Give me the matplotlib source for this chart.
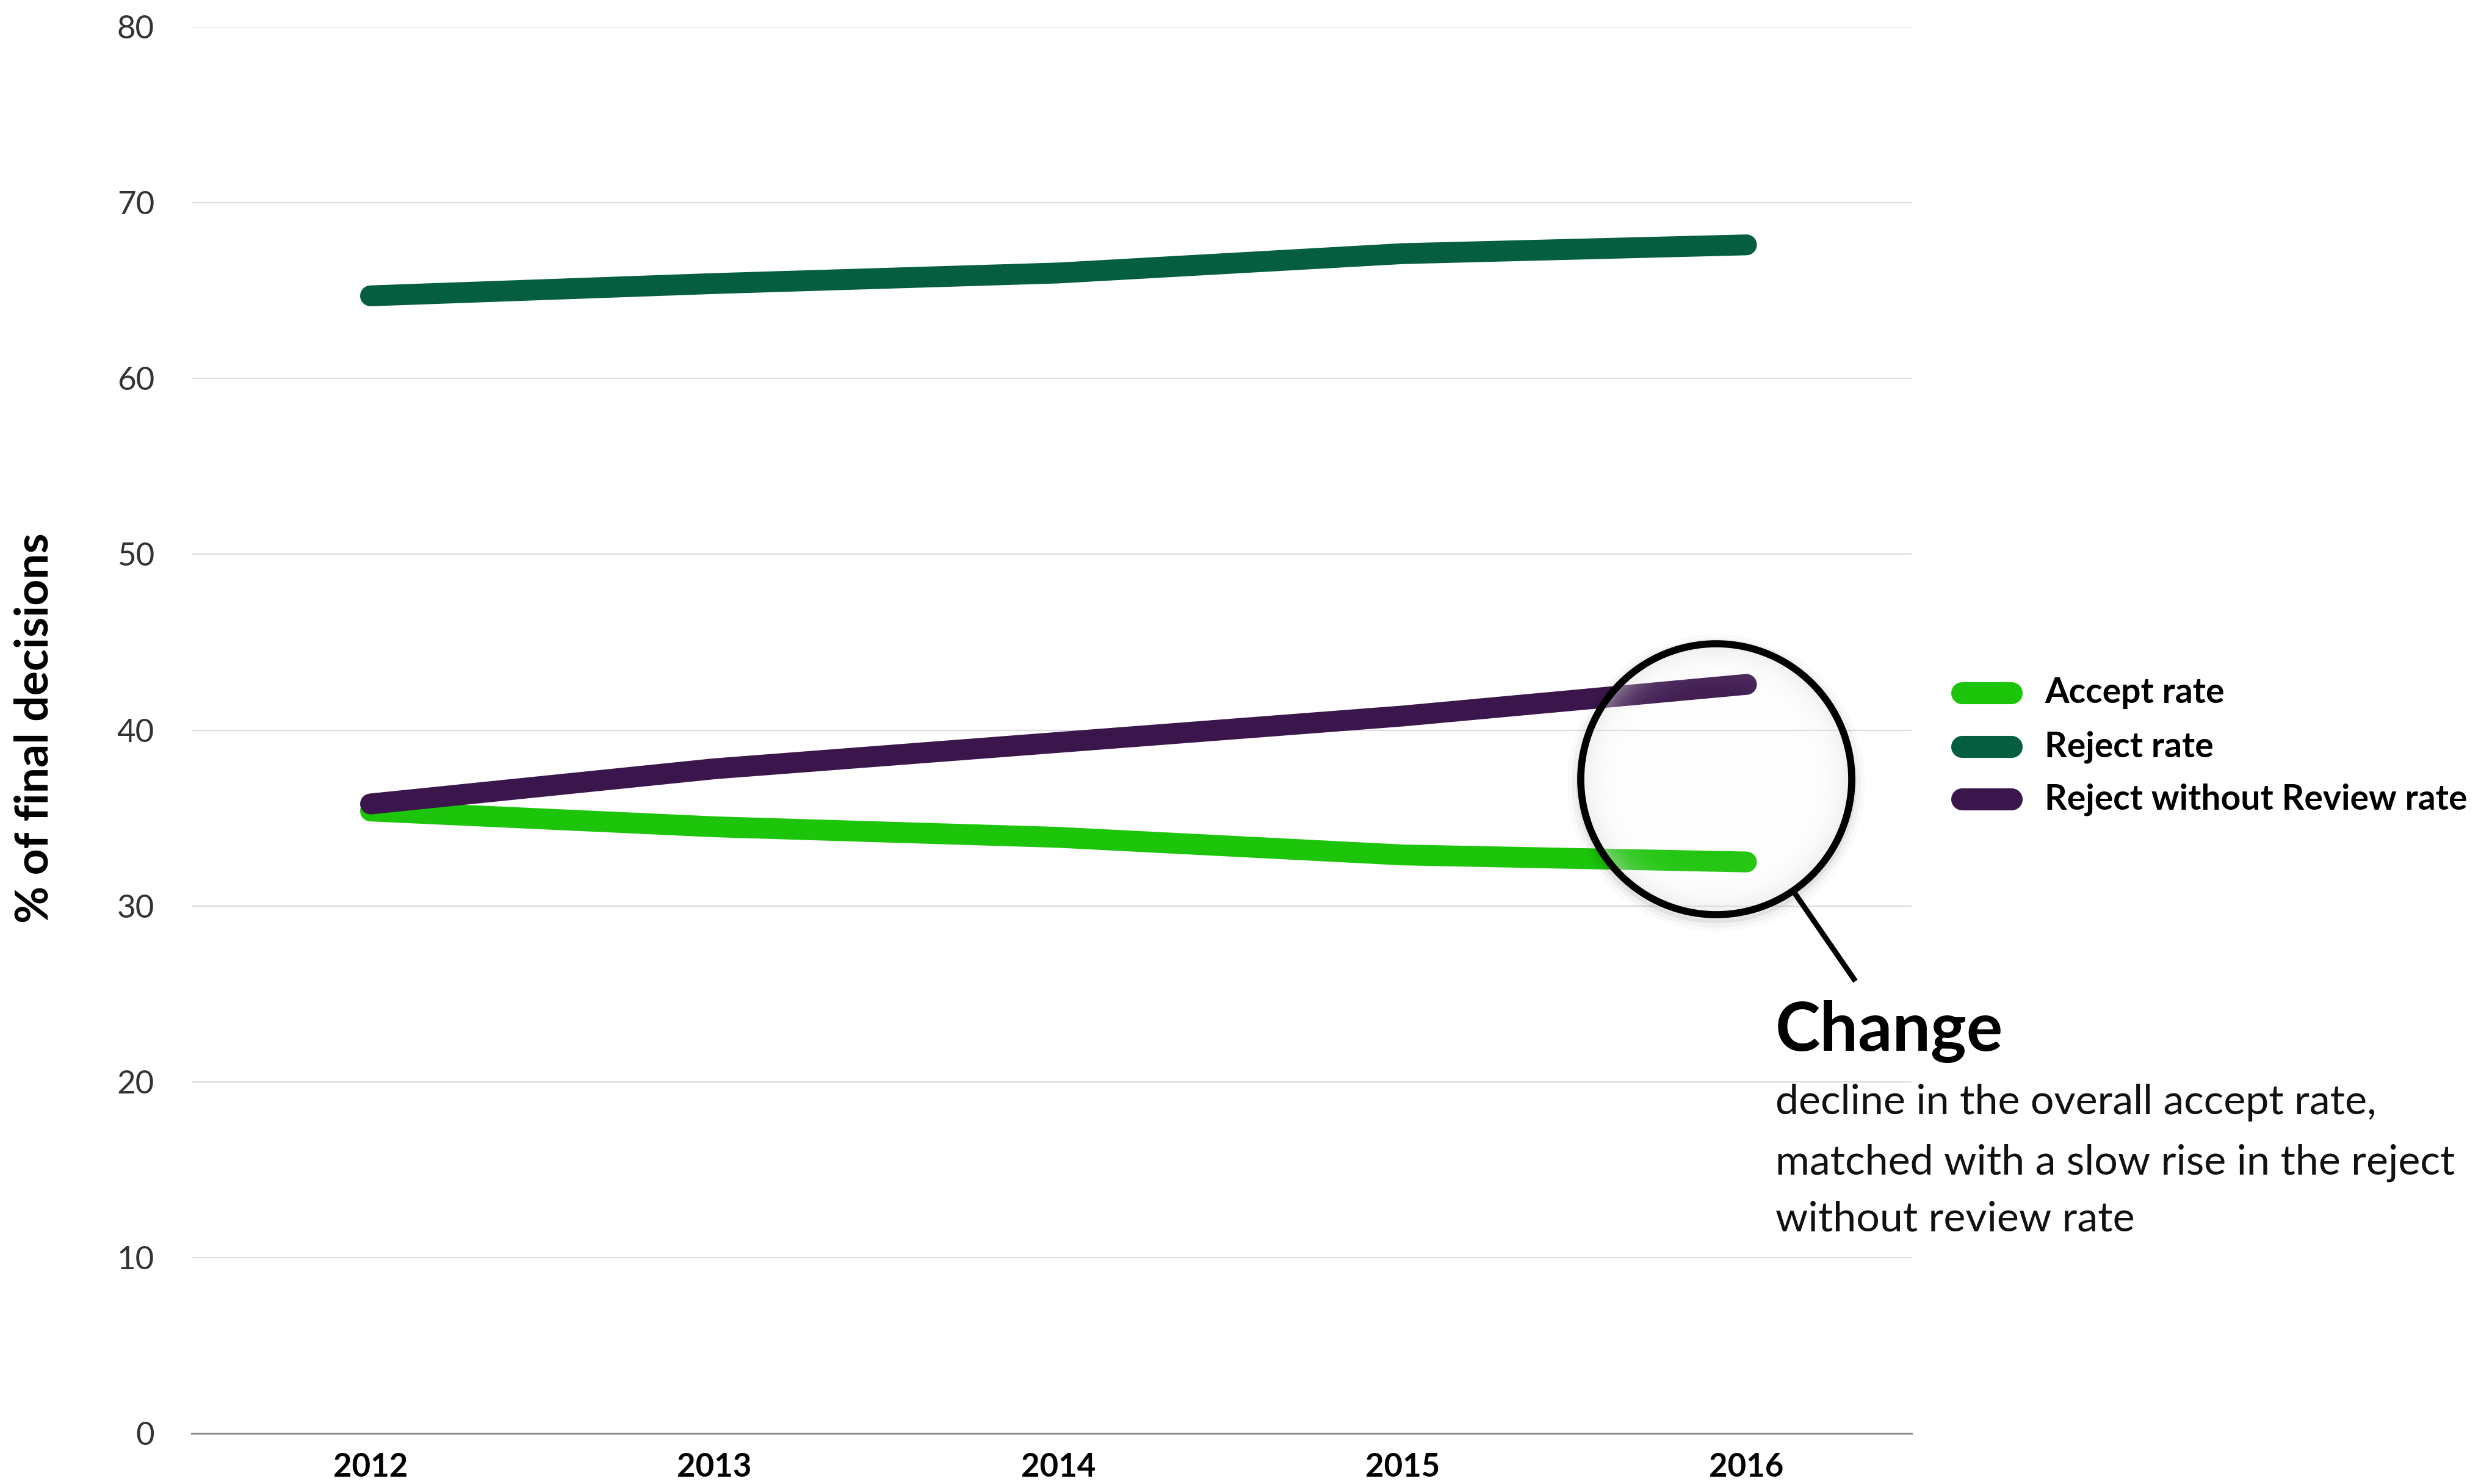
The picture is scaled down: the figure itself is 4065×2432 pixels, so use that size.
import numpy as np
import matplotlib
matplotlib.use("Agg")
import matplotlib.pyplot as plt
from matplotlib.patches import Circle

plt.rcParams['font.family'] = ['Lato', 'DejaVu Sans']

years = [2012, 2013, 2014, 2015, 2016]
accept = [35.4, 34.5, 33.9, 32.9, 32.5]
reject = [64.7, 65.4, 66.0, 67.1, 67.6]
reject_no_review = [35.8, 37.8, 39.3, 40.8, 42.6]

series_names = ['Accept rate', 'Reject rate', 'Reject without Review rate']
series_colors = ['#1cc50a', '#045e3f', '#3b164d']
y_ticks = [0, 10, 20, 30, 40, 50, 60, 70, 80]

note_title = 'Change'
note_lines = ['decline in the overall accept rate,',
              'matched with a slow rise in the reject',
              'without review rate']

W, H = 4066, 2432
dpi = 200
fig = plt.figure(figsize=(W / dpi, H / dpi), dpi=dpi, facecolor='white')

# main axes
ax = fig.add_axes([314 / W, 1 - 2349 / H, (3132 - 314) / W, (2349 - 44) / H])
for name, vals, col in zip(series_names, [accept, reject, reject_no_review], series_colors):
    ax.plot(years, vals, color=col, lw=12.3, solid_capstyle='round',
            solid_joinstyle='round', label=name, zorder=3)

ax.set_xlim(2011.48, 2016.48)
ax.set_ylim(0, 80)
ax.set_yticks(y_ticks)
ax.set_xticks(years)
ax.set_xticklabels([str(y) for y in years], fontweight='bold', fontsize=19)
ax.set_yticklabels([str(v) for v in y_ticks], fontweight='normal', fontsize=19,
                   color='#333333')
ax.tick_params(axis='both', length=0)
ax.tick_params(axis='y', pad=22)
ax.tick_params(axis='x', pad=11)
ax.grid(axis='y', color='#dddddd', lw=0.8, zorder=0)
for s in ['top', 'right', 'left']:
    ax.spines[s].set_visible(False)
ax.spines['bottom'].set_color('#8c8c8c')
ax.spines['bottom'].set_linewidth(1.1)
ax.set_facecolor('none')

fig.text(57 / W, 1 - 1193 / H, '% of final decisions', rotation=90,
         ha='center', va='center', fontsize=27, fontweight='bold')

# overlay in pixel coordinates
ov = fig.add_axes([0, 0, 1, 1])
ov.set_xlim(0, W)
ov.set_ylim(H, 0)
ov.axis('off')
ov.patch.set_alpha(0)

# magnifier lens
cx, cy, R = 2812, 1277, 222
for k, a in enumerate([0.06, 0.035, 0.02]):
    ov.add_patch(Circle((cx, cy + 6), R + 4 + 4 * k, fill=False,
                        lw=3 + 2 * k, ec='black', alpha=a))
n = 300
gx, gy = np.meshgrid(np.linspace(-1, 1, n), np.linspace(-1, 1, n))
r = np.clip(np.sqrt(gx ** 2 + gy ** 2), 0, 1)
img = np.zeros((n, n, 4))
shade = 1 - 0.14 * r ** 2
img[..., 0] = shade
img[..., 1] = shade
img[..., 2] = shade
img[..., 3] = 0.03 + 0.5 * r ** 8
im = ov.imshow(img, extent=[cx - R, cx + R, cy + R, cy - R], zorder=5,
               interpolation='bilinear')
clip = Circle((cx, cy), R, transform=ov.transData)
im.set_clip_path(clip)
ov.add_patch(Circle((cx, cy), R, fill=False, lw=4.2, ec='black', zorder=6))
ang = np.arctan2(1608 - cy, 3040 - cx)
ov.plot([cx + (R + 4) * np.cos(ang), 3040], [cy + (R + 4) * np.sin(ang), 1608],
        color='black', lw=3.2, solid_capstyle='butt', zorder=6)
ov.set_xlim(0, W)
ov.set_ylim(H, 0)

# legend
leg_y = [1136, 1224, 1310]
for yy, name, col in zip(leg_y, series_names, series_colors):
    ov.plot([3215, 3296], [yy, yy], color=col, lw=13, solid_capstyle='round')
    ov.text(3350, yy, name, va='center', ha='left', fontsize=20.5,
            fontweight='bold')

# annotation
ov.text(2909, 1691, note_title, va='center', ha='left', fontsize=40,
        fontweight='bold')
for yy, line in zip([1807, 1906, 1999], note_lines):
    ov.text(2909, yy, line, va='center', ha='left', fontsize=24.5,
            fontweight='normal', color='#111111')

fig.savefig('out.png', dpi=dpi, facecolor='white')
